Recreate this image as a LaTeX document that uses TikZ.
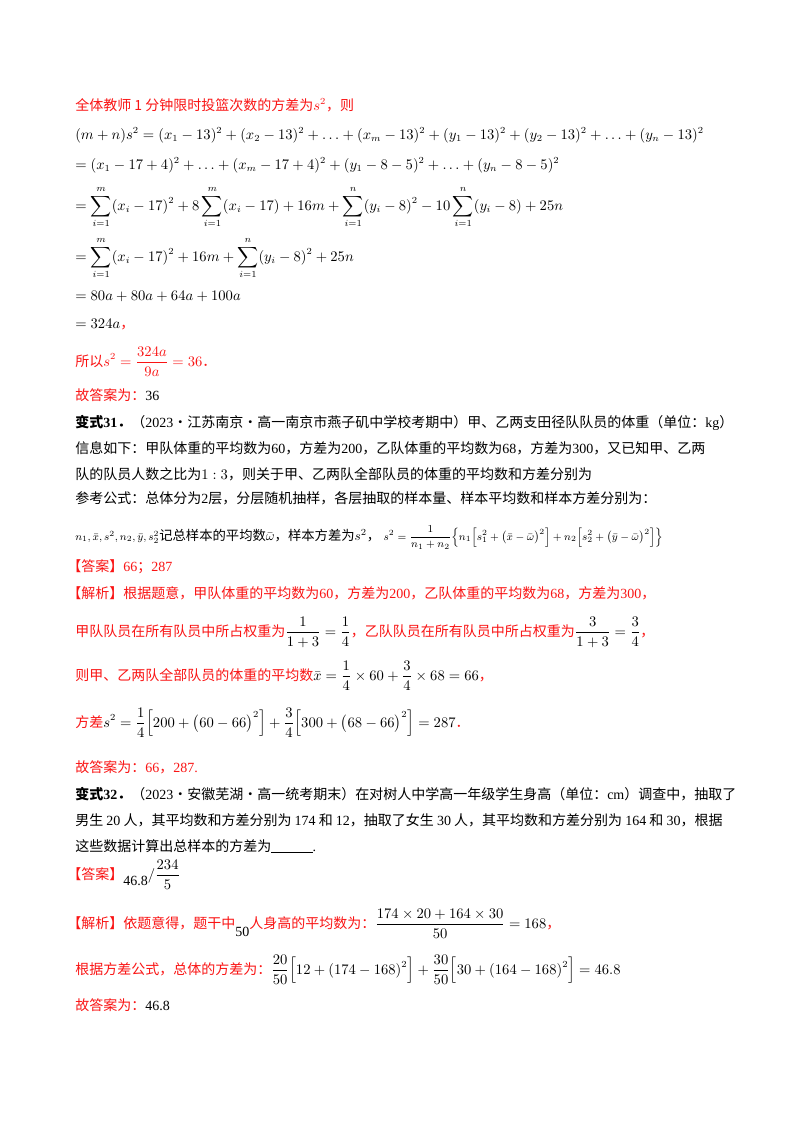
\documentclass[tikz,border=0pt]{standalone}
\usepackage{fontspec}
\usepackage{amsmath}
\setmainfont{Liberation Serif}
\newfontfamily\cjk{Noto Sans CJK SC}
\newcommand{\z}[1]{{\cjk #1}}
\definecolor{rd}{RGB}{250,20,20}
\begin{document}
\begin{tikzpicture}[x=0.75pt,y=-0.75pt,
  ln/.style={anchor=base west,inner sep=0pt,font=\fontsize{10.5}{12}\selectfont},
  rl/.style={ln,text=rd}]
\useasboundingbox (0,0) rectangle (800,1132);
\fill[white] (0,0) rectangle (800,1132);
\node[rl] (l1) at (75,110) {\z{全体教师 1 分钟限时投篮次数的方差为}$s^2$\z{，则}};
\node[ln] (l2) at (75,139) {$(m+n)s^2=(x_1-13)^2+(x_2-13)^2+\ldots+(x_m-13)^2+(y_1-13)^2+(y_2-13)^2+\ldots+(y_n-13)^2$};
\node[ln] (l3) at (75,169) {$=(x_1-17+4)^2+\ldots+(x_m-17+4)^2+(y_1-8-5)^2+\ldots+(y_n-8-5)^2$};
\node[ln] (l4) at (75,210) {$\displaystyle=\sum_{i=1}^{m}(x_i-17)^2+8\sum_{i=1}^{m}(x_i-17)+16m+\sum_{i=1}^{n}(y_i-8)^2-10\sum_{i=1}^{n}(y_i-8)+25n$};
\node[ln] (l5) at (75,261) {$\displaystyle=\sum_{i=1}^{m}(x_i-17)^2+16m+\sum_{i=1}^{n}(y_i-8)^2+25n$};
\node[ln] (l6) at (75,300) {$=80a+80a+64a+100a$};
\node[ln] (l7) at (75,328) {$=324a$\textcolor{rd}{\z{，}}};
\node[rl] (l8) at (75,366) {\z{所以}$\displaystyle s^2=\frac{324a}{9a}=36$\z{．}};
\node[rl] (l9) at (75,400) {\z{故答案为：}\textcolor{black}{36}};
\node[ln] (p1) at (75,427) {\textbf{\z{\bfseries 变式}31\z{\bfseries ．}}\z{（}2023\z{·江苏南京·高一南京市燕子矶中学校考期中）甲、乙两支田径队队员的体重（单位：}kg\z{）}};
\node[ln] (p2) at (75,453) {\z{信息如下：甲队体重的平均数为}60\z{，方差为}200\z{，乙队体重的平均数为}68\z{，方差为}300\z{，又已知甲、乙两}};
\node[ln] (p3) at (75,479) {\z{队的队员人数之比为}$1:3$\z{，则关于甲、乙两队全部队员的体重的平均数和方差分别为}};
\node[ln] (p4) at (75,503) {\z{参考公式：总体分为}2\z{层，分层随机抽样，各层抽取的样本量、样本平均数和样本方差分别为：}};
\node[ln] (p5) at (75,540) {\footnotesize$n_1,\bar{x},s^2,n_2,\bar{y},s_2^2$\normalsize\z{记总样本的平均数}$\bar{\omega}$\z{，样本方差为}$s^2$\z{，}\ \footnotesize$\displaystyle s^2=\frac{1}{n_1+n_2}\Big\{n_1\Big[s_1^2+\big(\bar{x}-\bar{\omega}\big)^2\Big]+n_2\Big[s_2^2+\big(\bar{y}-\bar{\omega}\big)^2\Big]\Big\}$};
\node[rl] (a1) at (67,571) {\z{【答案】}66\z{；}287};
\node[rl] (a2) at (67,598) {\z{【解析】根据题意，甲队体重的平均数为}60\z{，方差为}200\z{，乙队体重的平均数为}68\z{，方差为}300\z{，}};
\node[rl] (a3) at (75,636) {\z{甲队队员在所有队员中所占权重为}\textcolor{black}{$\displaystyle\frac{1}{1+3}=\frac14$}\z{，乙队队员在所有队员中所占权重为}\textcolor{black}{$\displaystyle\frac{3}{1+3}=\frac34$}\z{，}};
\node[rl] (a4) at (75,680) {\z{则甲、乙两队全部队员的体重的平均数}\textcolor{black}{$\displaystyle\bar{x}=\frac14\times60+\frac34\times68=66$}\z{，}};
\node[rl] (a5) at (75,727) {\z{方差}\textcolor{black}{$\displaystyle s^2=\frac14\Big[200+\big(60-66\big)^2\Big]+\frac34\Big[300+\big(68-66\big)^2\Big]=287$}\z{．}};
\node[rl] (a6) at (75,772) {\z{故答案为：}66\z{，}287.};
\node[ln] (q1) at (75,799) {\textbf{\z{\bfseries 变式}32\z{\bfseries ．}}\z{（}2023\z{·安徽芜湖·高一统考期末）在对树人中学高一年级学生身高（单位：}cm\z{）调查中，抽取了}};
\node[ln] (q2) at (75,825) {\z{男生 }20\z{ 人，其平均数和方差分别为 }174\z{ 和 }12\z{，抽取了女生 }30\z{ 人，其平均数和方差分别为 }164\z{ 和 }30\z{，根据}};
\node[ln] (q3) at (75,851) {\z{这些数据计算出总样本的方差为}\rule[-1.5pt]{31pt}{0.6pt}.};
\node[rl] (b1) at (67,879) {\z{【答案】}\textcolor{black}{\raisebox{-5pt}{46.8}$/\displaystyle\frac{234}{5}$}};
\node[rl] (b2) at (67,928) {\z{【解析】依题意得，题干中}\textcolor{black}{\raisebox{-6pt}{50}}\z{人身高的平均数为：}\textcolor{black}{$\displaystyle\frac{174\times20+164\times30}{50}=168$}\z{，}};
\node[rl] (b3) at (75,974) {\z{根据方差公式，总体的方差为：}\textcolor{black}{$\displaystyle\frac{20}{50}\Big[12+(174-168)^2\Big]+\frac{30}{50}\Big[30+(164-168)^2\Big]=46.8$}};
\node[rl] (b4) at (75,1010) {\z{故答案为：}\textcolor{black}{46.8}};
\end{tikzpicture}
\end{document}
